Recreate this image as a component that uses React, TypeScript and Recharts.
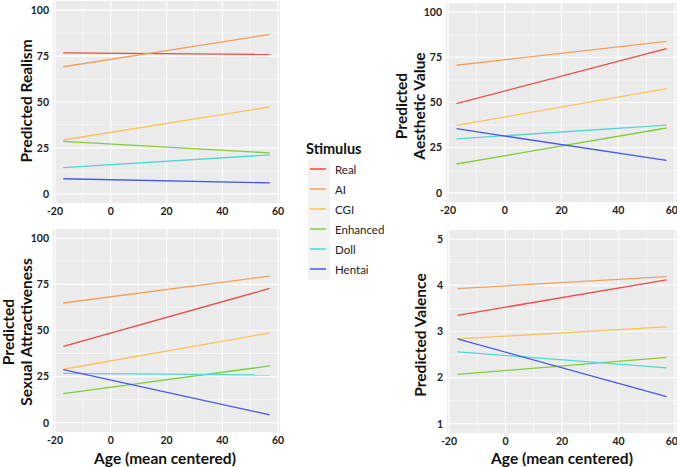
import { LineChart, Line, XAxis, YAxis, CartesianGrid } from 'recharts';

// age (mean centered) at the two ends of each fitted line
const ages = [-17, 57];
const stimuli = ['Real', 'AI', 'CGI', 'Enhanced', 'Doll', 'Hentai'];
const stimulusColors = ['#ef4a43', '#f5a05a', '#fbc25a', '#7fce3c', '#52d6d6', '#4756ee'];

// predicted values at youngest / oldest age, in stimulus order
const realism = [[76.8, 75.9], [69.2, 86.8], [29.3, 47.3], [28.6, 22.3], [14.3, 21.2], [8.2, 6.0]];
const aesthetic = [[49.4, 79.8], [70.6, 83.8], [37.3, 57.7], [16.0, 35.9], [29.9, 37.5], [35.5, 18.0]];
const attractiveness = [[41.4, 72.8], [64.9, 79.5], [29.0, 48.7], [15.8, 30.8], [26.8, 25.9], [28.8, 4.3]];
const valence = [[3.35, 4.12], [3.93, 4.19], [2.84, 3.1], [2.07, 2.44], [2.56, 2.21], [2.84, 1.59]];

const ageTicks = [-20, 0, 20, 40, 60];
const ageMinor = [-10, 10, 30, 50];
const pctTicks = [0, 25, 50, 75, 100];
const pctMinor = [12.5, 37.5, 62.5, 87.5];
const valenceTicks = [1, 2, 3, 4, 5];
const valenceMinor = [1.5, 2.5, 3.5, 4.5];

const FONT = "Lato, 'Open Sans', sans-serif";
const tickStyle = { fontSize: 10.5, fontWeight: 700, fill: '#222', fontFamily: FONT };
const titleStyle = { fontSize: 15.5, fontWeight: 700, fill: '#111', fontFamily: FONT };

type TitleLine = { text: string; x: number; y: number };

const rotatedTitle = (lines: TitleLine[]) => () => (
  <g>
    {lines.map((l) => (
      <text
        key={l.text}
        transform={`translate(${l.x},${l.y}) rotate(-90)`}
        textAnchor="middle"
        dominantBaseline="central"
        style={titleStyle}
      >
        {l.text}
      </text>
    ))}
  </g>
);

const ageTitle = (x: number, y: number) => () => (
  <text x={x} y={y} textAnchor="middle" dominantBaseline="central" style={{ ...titleStyle, fontSize: 15.5 }}>
    Age (mean centered)
  </text>
);

function Panel({ values, yTicks, yMinor, yDomain, box, margin, yWidth, xHeight, yTitle, xTitle }: any) {
  const rows = ages.map((age, i) => {
    const row: any = { age };
    stimuli.forEach((s, k) => (row[s] = values[k][i]));
    return row;
  });
  return (
    <div style={{ position: 'absolute', left: box.left, top: box.top }}>
      <LineChart width={box.width} height={box.height} data={rows} margin={margin}>
        <CartesianGrid fill="#ebebeb" stroke="#ffffff" strokeWidth={0.6} verticalValues={ageMinor} horizontalValues={yMinor} />
        <CartesianGrid stroke="#ffffff" strokeWidth={1.2} verticalValues={ageTicks} horizontalValues={yTicks} />
        <XAxis
          type="number"
          dataKey="age"
          domain={[-20.7, 60.7]}
          ticks={ageTicks}
          allowDataOverflow
          axisLine={false}
          tickLine={false}
          tickSize={0}
          tickMargin={5}
          tick={tickStyle}
          height={xHeight}
          label={xTitle}
        />
        <YAxis
          type="number"
          domain={yDomain}
          ticks={yTicks}
          allowDataOverflow
          axisLine={false}
          tickLine={false}
          tickSize={0}
          tickMargin={4}
          tick={tickStyle}
          width={yWidth}
          label={yTitle}
        />
        {stimuli.map((s, k) => (
          <Line
            key={s}
            type="linear"
            dataKey={s}
            stroke={stimulusColors[k]}
            strokeWidth={1.3}
            dot={false}
            activeDot={false}
            isAnimationActive={false}
          />
        ))}
      </LineChart>
    </div>
  );
}

function StimulusLegend() {
  return (
    <svg style={{ position: 'absolute', left: 300, top: 135 }} width={110} height={150}>
      <text x={6} y={13} dominantBaseline="central" style={{ ...titleStyle, fontSize: 14.5 }}>
        Stimulus
      </text>
      <rect x={8} y={25} width={22} height={120} fill="#f2f2f2" />
      {stimuli.map((s, k) => (
        <g key={s}>
          <line x1={10} x2={26} y1={34 + k * 20} y2={34 + k * 20} stroke={stimulusColors[k]} strokeWidth={1.5} />
          <text x={35} y={34 + k * 20} dominantBaseline="central" style={{ fontSize: 11.5, fill: '#222', fontFamily: FONT }}>
            {s}
          </text>
        </g>
      ))}
    </svg>
  );
}

export default function App() {
  return (
    <div style={{ position: 'absolute', left: 0, top: 0, width: 677, height: 467, background: '#fff', overflow: 'hidden' }}>
      <Panel
        values={realism}
        yTicks={pctTicks}
        yMinor={pctMinor}
        yDomain={[-5, 105]}
        box={{ left: 0, top: 0, width: 290, height: 225 }}
        margin={{ top: 1, right: 10, left: 0, bottom: 0 }}
        yWidth={53}
        xHeight={22}
        yTitle={rotatedTitle([{ text: 'Predicted Realism', x: 26, y: 101 }])}
      />
      <Panel
        values={aesthetic}
        yTicks={pctTicks}
        yMinor={pctMinor}
        yDomain={[-5, 105]}
        box={{ left: 370, top: 0, width: 307, height: 225 }}
        margin={{ top: 3, right: 0, left: 0, bottom: 0 }}
        yWidth={76}
        xHeight={23}
        yTitle={rotatedTitle([
          { text: 'Predicted', x: 31, y: 106 },
          { text: 'Aesthetic Value', x: 49, y: 106 },
        ])}
      />
      <Panel
        values={attractiveness}
        yTicks={pctTicks}
        yMinor={pctMinor}
        yDomain={[-5, 105]}
        box={{ left: 0, top: 225, width: 290, height: 242 }}
        margin={{ top: 4, right: 10, left: 0, bottom: 0 }}
        yWidth={53}
        xHeight={35}
        yTitle={rotatedTitle([
          { text: 'Predicted', x: 8, y: 107 },
          { text: 'Sexual Attractiveness', x: 26, y: 107 },
        ])}
        xTitle={ageTitle(165, 233)}
      />
      <Panel
        values={valence}
        yTicks={valenceTicks}
        yMinor={valenceMinor}
        yDomain={[0.8, 5.2]}
        box={{ left: 370, top: 225, width: 307, height: 242 }}
        margin={{ top: 5, right: 0, left: 0, bottom: 0 }}
        yWidth={77}
        xHeight={34}
        yTitle={rotatedTitle([{ text: 'Predicted Valence', x: 50, y: 110 }])}
        xTitle={ageTitle(192, 233)}
      />
      <StimulusLegend />
    </div>
  );
}
